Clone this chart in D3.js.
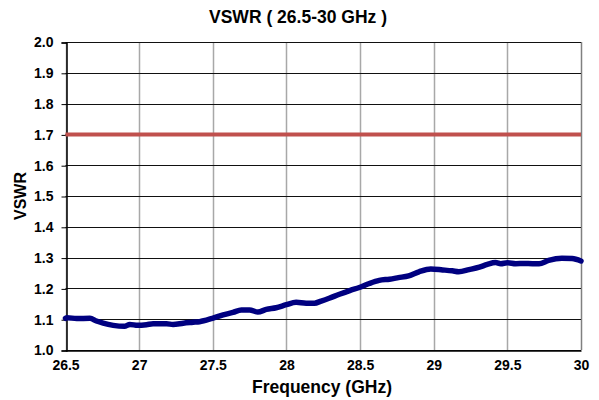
<!DOCTYPE html>
<html>
<head>
<meta charset="utf-8">
<script src="https://cdn.jsdelivr.net/npm/d3@7"></script>
<style>
  body { margin: 0; background: #fff; }
  text { font-family: Arial, "Liberation Sans", sans-serif; font-weight: bold; fill: #000; }
</style>
</head>
<body>
<div id="chart"></div>
<script>
// values
const freq = [26.5, 26.51, 26.576, 26.666, 26.71, 26.756, 26.824, 26.9, 26.937, 26.99, 27.05, 27.095, 27.186, 27.23, 27.3,
  27.366, 27.41, 27.497, 27.57, 27.637, 27.694, 27.75, 27.806, 27.863, 27.93, 27.999, 28.066, 28.134, 28.19, 28.236,
  28.29, 28.36, 28.43, 28.495, 28.563, 28.63, 28.7, 28.76, 28.83, 28.9, 28.98, 29.06, 29.127, 29.17, 29.24, 29.31,
  29.364, 29.42, 29.455, 29.5, 29.557, 29.613, 29.67, 29.715, 29.78, 29.87, 29.94, 30.0];
const vswr = [1.103, 1.105, 1.102, 1.103, 1.094, 1.087, 1.080, 1.077, 1.083, 1.080, 1.082, 1.085, 1.085, 1.083, 1.087,
  1.090, 1.092, 1.103, 1.114, 1.122, 1.130, 1.130, 1.123, 1.132, 1.137, 1.147, 1.155, 1.152, 1.152, 1.159,
  1.168, 1.181, 1.193, 1.203, 1.216, 1.226, 1.230, 1.235, 1.241, 1.254, 1.263, 1.260, 1.257, 1.254, 1.261, 1.269,
  1.278, 1.284, 1.280, 1.283, 1.280, 1.281, 1.280, 1.280, 1.291, 1.298, 1.297, 1.289];
const limit = 1.7;
const xTicks = [26.5, 27, 27.5, 28, 28.5, 29, 29.5, 30];
const yTicks = [1.0, 1.1, 1.2, 1.3, 1.4, 1.5, 1.6, 1.7, 1.8, 1.9, 2.0];

const width = 599;
const height = 400;
const margin = { top: 42, right: 18, bottom: 50, left: 65.5 };
const font = 'Arial, "Liberation Sans", sans-serif';

const svg = d3.select('#chart')
  .append('svg')
  .attr('width', width)
  .attr('height', height);

const x = d3.scaleLinear().domain([26.5, 30]).range([margin.left, 581]);
const y = d3.scaleLinear().domain([1.0, 2.0]).range([350, margin.top]);

// vertical grid
svg.append('g')
  .selectAll('line')
  .data(xTicks)
  .enter()
  .append('line')
  .attr('x1', d => Math.round(x(d)) + 0.5)
  .attr('x2', d => Math.round(x(d)) + 0.5)
  .attr('y1', y(2.0))
  .attr('y2', y(1.0))
  .attr('stroke', d => d === 30 ? '#808080' : '#a8a8a8')
  .attr('stroke-width', 1.5);

// horizontal grid
svg.append('g')
  .selectAll('line')
  .data(yTicks)
  .enter()
  .append('line')
  .attr('x1', margin.left)
  .attr('x2', x(30))
  .attr('y1', d => Math.round(y(d)) + 0.5)
  .attr('y2', d => Math.round(y(d)) + 0.5)
  .attr('stroke', '#111')
  .attr('stroke-width', 1);

// y axis
const yAxis = svg.append('g')
  .attr('transform', 'translate(' + (Math.round(margin.left) + 0.5) + ',0.5)')
  .attr('font-family', font)
  .attr('font-size', 14)
  .attr('font-weight', 'bold')
  .call(d3.axisLeft(y).tickValues(yTicks).tickFormat(d3.format('.1f')).tickSize(5).tickPadding(8));
yAxis.select('.domain').attr('stroke', '#000').attr('stroke-width', 1.5);
yAxis.selectAll('.tick line').attr('stroke', '#000');
yAxis.selectAll('text').style('font-size', '14px');

// x axis labels
const xAxis = svg.append('g')
  .attr('transform', 'translate(0,350.5)')
  .attr('font-family', font)
  .attr('font-size', 14)
  .attr('font-weight', 'bold')
  .call(d3.axisBottom(x).tickValues(xTicks).tickFormat(d => d).tickSize(0).tickPadding(10));
xAxis.select('.domain').attr('stroke', '#000').attr('stroke-width', 1.5);
xAxis.selectAll('text').style('font-size', '14px');

// limit line
svg.append('line')
  .attr('x1', x(26.5))
  .attr('x2', x(30))
  .attr('y1', y(limit))
  .attr('y2', y(limit))
  .attr('stroke', '#c0504d')
  .attr('stroke-width', 4);

// measured trace
const line = d3.line()
  .x((d, i) => x(freq[i]))
  .y(d => y(d))
  .curve(d3.curveMonotoneX);

svg.append('path')
  .datum(vswr)
  .attr('d', line)
  .attr('fill', 'none')
  .attr('stroke', '#000080')
  .attr('stroke-width', 5.5)
  .attr('stroke-linejoin', 'round')
  .attr('stroke-linecap', 'round');

// titles
svg.append('text')
  .attr('x', 298)
  .attr('y', 23)
  .attr('text-anchor', 'middle')
  .style('font-size', '17.5px')
  .text('VSWR ( 26.5-30 GHz )');

svg.append('text')
  .attr('x', 322)
  .attr('y', 393)
  .attr('text-anchor', 'middle')
  .style('font-size', '17.5px')
  .text('Frequency (GHz)');

svg.append('text')
  .attr('transform', 'translate(26,' + y(1.5) + ') rotate(-90)')
  .attr('text-anchor', 'middle')
  .style('font-size', '16px')
  .text('VSWR');
</script>
</body>
</html>
